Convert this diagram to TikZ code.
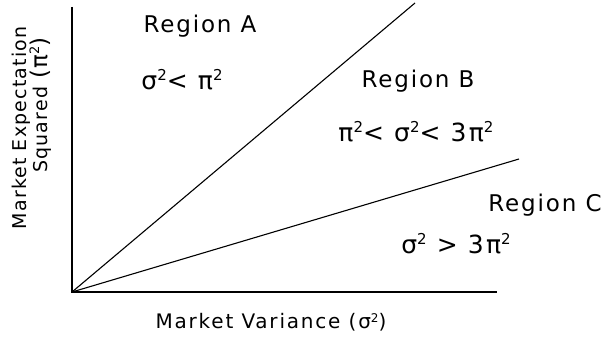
\documentclass[tikz,border=0pt]{standalone}
\usepackage{fontspec}
\setmainfont{DejaVu Sans}
\newfontfamily\regfont[LetterSpace=8]{DejaVu Sans}
\newfontfamily\axfont[LetterSpace=9]{DejaVu Sans}
\newfontfamily\yfont[LetterSpace=6]{DejaVu Sans}
\newfontfamily\eqfont[LetterSpace=9]{DejaVu Sans}
\newcommand{\sqr}{\raisebox{9pt}{\fontsize{15}{15}\selectfont 2}}
\newcommand{\axsq}{\raisebox{6pt}{\fontsize{12}{12}\selectfont 2}}
\newcommand{\ysq}{\raisebox{8pt}{\fontsize{13}{13}\selectfont 2}}
\begin{document}
\begin{tikzpicture}[x=1pt,y=1pt,
  lbl/.style={inner sep=0pt, anchor=base, font=\regfont\fontsize{23}{26}\selectfont},
  eq/.style={inner sep=0pt, anchor=base, font=\eqfont\fontsize{25}{28}\selectfont},
  axlbl/.style={inner sep=0pt, anchor=base, font=\axfont\fontsize{20}{26}\selectfont},
  ylbl/.style={inner sep=0pt, anchor=base, rotate=90, font=\yfont\fontsize{19}{26}\selectfont},
  axis/.style={line width=1.7pt},
  bound/.style={line width=1.1pt}]
\useasboundingbox (0,0) rectangle (607,337);
\coordinate (O) at (72,45);
\coordinate (Ytop) at (72,330);
\coordinate (Xend) at (497,45);
\coordinate (Aend) at (415,334);
\coordinate (Bend) at (519,178);
\draw[axis] (Ytop) -- (O) -- (Xend);
\draw[bound] (O) -- (Aend);
\draw[bound] (O) -- (Bend);
\node[lbl] (ra) at (200,304) {Region A};
\node[eq] (ea) at (182,247) {σ\sqr< π\sqr};
\node[lbl] (rb) at (418,249) {Region B};
\node[eq] (eb) at (416,195) {π\sqr< σ\sqr< 3π\sqr};
\node[lbl] (rc) at (545,125) {Region C};
\node[eq] (ec) at (456,83) {σ\sqr\ > 3π\sqr};
\node[axlbl] (xl) at (271,9) {Market Variance (σ\axsq)};
\node[ylbl] (yl1) at (26,209) {Market Expectation};
\node[ylbl] (yl2) at (47,232) {Squared\hspace{8pt}{\fontsize{23}{26}\selectfont(π\ysq)}};
\end{tikzpicture}
\end{document}
